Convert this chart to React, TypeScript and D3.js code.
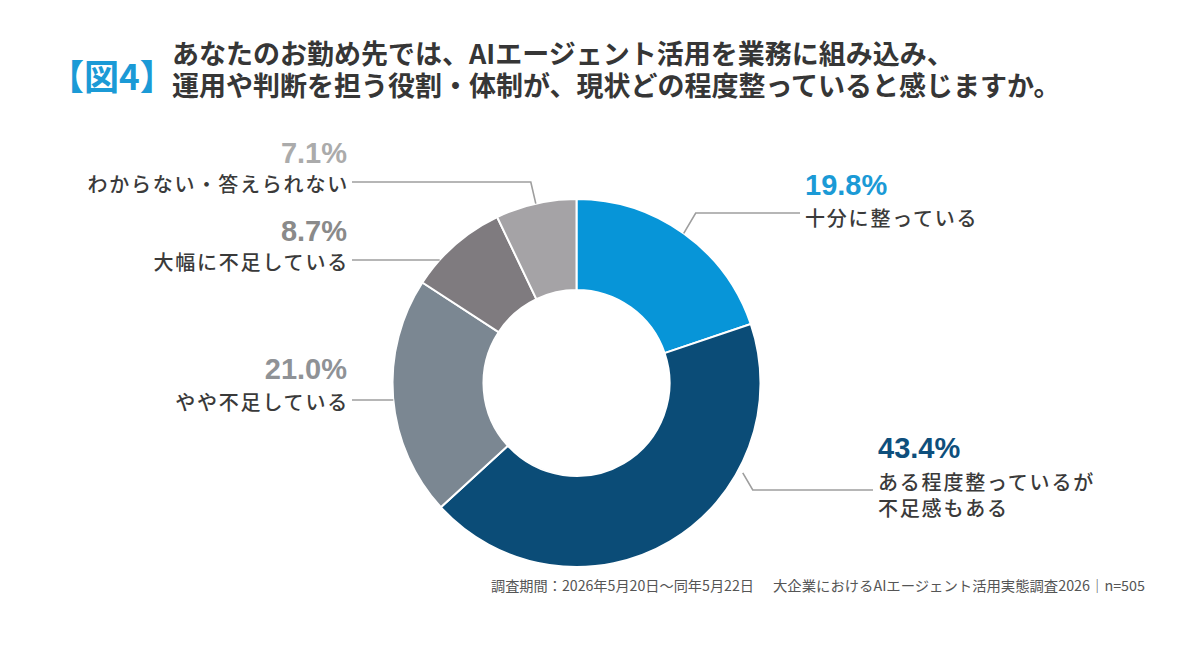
import React from "react";
import * as d3 from "d3";

// survey answers, clockwise from 12 o'clock
const categories = [
  "十分に整っている",
  "ある程度整っているが不足感もある",
  "やや不足している",
  "大幅に不足している",
  "わからない・答えられない",
];
const labelLines = [
  ["十分に整っている"],
  ["ある程度整っているが", "不足感もある"],
  ["やや不足している"],
  ["大幅に不足している"],
  ["わからない・答えられない"],
];
const shares = [19.8, 43.4, 21.0, 8.7, 7.1];
const sliceColors = ["#0795d8", "#0b4c77", "#7b8792", "#7f7b7f", "#a5a3a6"];
const pctColors = ["#1b9ad6", "#0e4f7c", "#8f9296", "#8a8a8a", "#ababab"];

const titleLines = [
  "あなたのお勤め先では、AIエージェント活用を業務に組み込み、",
  "運用や判断を担う役割・体制が、現状どの程度整っていると感じますか。",
];
const figLabel = "【図4】";
const footPeriod = "調査期間：2026年5月20日～同年5月22日";
const footSource = "大企業におけるAIエージェント活用実態調査2026｜n=505";

const W = 1200;
const H = 666;
const cx = 576.5;
const cy = 383;
const R = 184;
const r = 93;

const jp = '"Noto Sans CJK JP", "Noto Sans", sans-serif';
const num = '"Liberation Sans", Arial, sans-serif';

// where each label sits and how its leader leaves the ring
type Layout = {
  side: "left" | "right";
  x: number;
  pctY: number;
  textY: number;
  lineY: number;
  anchor: "mid" | "touch" | number;
  gap?: number;
  elbowDx?: number;
};
const layout: Layout[] = [
  { side: "right", x: 805, pctY: 195, textY: 226, lineY: 213, anchor: "mid", elbowDx: 12 },
  { side: "right", x: 878, pctY: 458, textY: 490, lineY: 490, anchor: 118.4, gap: 5, elbowDx: 10 },
  { side: "left", x: 347, pctY: 379, textY: 410, lineY: 400, anchor: "touch" },
  { side: "left", x: 347, pctY: 241, textY: 270, lineY: 260, anchor: "touch" },
  { side: "left", x: 347, pctY: 163, textY: 192, lineY: 182, anchor: "mid", elbowDx: -5 },
];

const pt = (a: number, rad: number): [number, number] => [cx + rad * Math.sin(a), cy - rad * Math.cos(a)];

export default function App() {
  const pie = d3.pie<number>().sort(null).value((d) => d).startAngle(0).endAngle(2 * Math.PI);
  const arcs = pie(shares);
  const arc = d3.arc<d3.PieArcDatum<number>>().innerRadius(r).outerRadius(R);
  const line = d3.line();

  const leader = (i: number) => {
    const L = layout[i];
    const d = arcs[i];
    let start: [number, number];
    let elbow: [number, number];
    if (L.anchor === "touch") {
      const c = Math.acos((cy - L.lineY) / R);
      const a = L.side === "left" ? 2 * Math.PI - c : c;
      start = pt(a, R);
      elbow = start;
    } else {
      const a = L.anchor === "mid" ? (d.startAngle + d.endAngle) / 2 : (L.anchor * Math.PI) / 180;
      start = pt(a, R + (L.gap ?? 0));
      elbow = [start[0] + (L.elbowDx ?? 0), L.lineY];
    }
    const endX = L.side === "left" ? L.x + 5 : L.x - 5;
    return line([start, elbow, [endX, L.lineY]]) ?? "";
  };

  return (
    <svg
      width={W}
      height={H}
      style={{ position: "absolute", left: 0, top: 0, background: "#ffffff" }}
    >
      <text
        x={49}
        y={74}
        dominantBaseline="central"
        fontFamily={jp}
        fontWeight={700}
        fontSize={35}
        fill="#1b9ad6"
      >
        {figLabel}
      </text>
      {titleLines.map((t, i) => (
        <text key={i} x={172} y={64 + i * 32} fontFamily={jp} fontWeight={700} fontSize={27} fill="#363636">
          {t}
        </text>
      ))}

      <g>
        {arcs.map((d, i) => (
          <path
            key={categories[i]}
            d={arc(d) ?? ""}
            transform={`translate(${cx},${cy})`}
            fill={sliceColors[i]}
            stroke="#ffffff"
            strokeWidth={2}
          />
        ))}
      </g>

      <g fill="none" stroke="#9e9e9e" strokeWidth={1.6}>
        {arcs.map((_, i) => (
          <path key={i} d={leader(i)} />
        ))}
      </g>

      {shares.map((v, i) => {
        const L = layout[i];
        const anchor = L.side === "left" ? "end" : "start";
        return (
          <g key={categories[i]}>
            <text
              x={L.x}
              y={L.pctY}
              textAnchor={anchor}
              fontFamily={num}
              fontWeight={700}
              fontSize={29}
              fill={pctColors[i]}
            >
              {v.toFixed(1)}%
            </text>
            {labelLines[i].map((t, j) => (
              <text
                key={j}
                x={L.side === "left" ? L.x + 2 : L.x}
                y={L.textY + j * 26}
                textAnchor={anchor}
                fontFamily={jp}
                fontWeight={500}
                fontSize={20}
                letterSpacing={1.8}
                fill="#3a3a3a"
              >
                {t}
              </text>
            ))}
          </g>
        );
      })}

      <text x={491} y={591} fontFamily={jp} fontSize={14} fill="#555555" textLength={263} lengthAdjust="spacingAndGlyphs">
        {footPeriod}
      </text>
      <text x={773} y={591} fontFamily={jp} fontSize={14} fill="#555555" textLength={372} lengthAdjust="spacingAndGlyphs">
        {footSource}
      </text>
    </svg>
  );
}
